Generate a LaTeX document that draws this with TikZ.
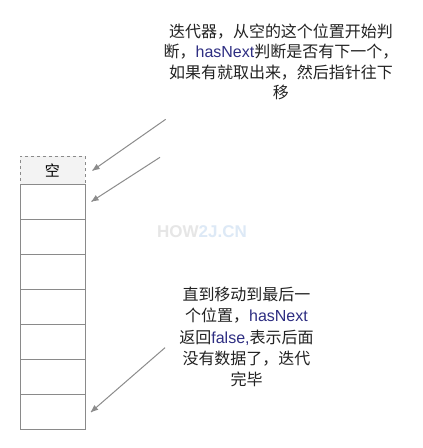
\documentclass[tikz,border=0pt]{standalone}
\usepackage{fontspec}
\setmainfont{Liberation Sans}
\newfontfamily\cjk{Noto Sans CJK SC}
\usetikzlibrary{calc}
\definecolor{cellline}{HTML}{8A8A8A}
\definecolor{arrowc}{HTML}{8C8C8C}
\definecolor{txt}{HTML}{222222}
\definecolor{kw}{HTML}{2E2E82}
\definecolor{wmgray}{HTML}{E6E6E6}
\definecolor{wmblue}{HTML}{DDE9F6}
\definecolor{topfill}{HTML}{F3F3F3}
\newcommand{\kwd}[1]{{\color{kw}#1}}
\begin{document}
\begin{tikzpicture}[x=1pt,y=1pt,
  cellbox/.style={draw=cellline,line width=1pt,minimum width=65pt,minimum height=35pt,inner sep=0pt,anchor=north west},
  emptybox/.style={cellbox,dashed,fill=topfill,minimum height=28pt},
  pointer/.style={draw=arrowc,line width=1pt},
  note/.style={align=center,text=txt,font=\cjk\fontsize{16}{20.3}\selectfont,inner sep=0pt}]
\fill[white] (0,0) rectangle (423,448);
\node[wmgray,font=\bfseries\fontsize{17}{17}\selectfont] (wm) at (202,{448-232}) {HOW\textcolor{wmblue}{2J.CN}};
\node[emptybox] (c0) at (19.5,{448-156}) {\cjk\fontsize{15}{15}\selectfont 空};
\node[cellbox] (c1) at (19.5,{448-184}) {};
\node[cellbox] (c2) at (19.5,{448-219}) {};
\node[cellbox] (c3) at (19.5,{448-254}) {};
\node[cellbox] (c4) at (19.5,{448-289}) {};
\node[cellbox] (c5) at (19.5,{448-324}) {};
\node[cellbox] (c6) at (19.5,{448-359}) {};
\node[cellbox] (c7) at (19.5,{448-394}) {};
\node[note] (t1) at (281,{448-62}) {迭代器，从空的这个位置开始判\\断，\kwd{\fontspec{Liberation Sans}hasNext}判断是否有下一个，\\如果有就取出来，然后指针往下\\移};
\node[note,font=\cjk\fontsize{16}{21.2}\selectfont] (t2) at (246.5,{448-337}) {直到移动到最后一\\个位置，\kwd{\fontspec{Liberation Sans}hasNext}\\返回\kwd{\fontspec{Liberation Sans}false,}表示后面\\没有数据了，迭代\\完毕};
\coordinate (s1) at (165.7,{448-119.3});
\coordinate (s2) at (160,{448-157.3});
\coordinate (s3) at (165,{448-347.7});
\coordinate (e1) at ($(c0.east)+(7,0)$);
\coordinate (e2) at ($(c1.east)+(6,0.5)$);
\coordinate (e3) at ($(c7.east)+(5.5,0)$);
\draw[pointer] (s1) -- (e1);
\draw[pointer] (s2) -- (e2);
\draw[pointer] (s3) -- (e3);
\fill[arrowc] (e1) -- ($($(e1)!7pt!(s1)$)!3pt!90:(s1)$) -- ($($(e1)!7pt!(s1)$)!3pt!-90:(s1)$) -- cycle;
\fill[arrowc] (e2) -- ($($(e2)!7pt!(s2)$)!3pt!90:(s2)$) -- ($($(e2)!7pt!(s2)$)!3pt!-90:(s2)$) -- cycle;
\fill[arrowc] (e3) -- ($($(e3)!7pt!(s3)$)!3pt!90:(s3)$) -- ($($(e3)!7pt!(s3)$)!3pt!-90:(s3)$) -- cycle;
\end{tikzpicture}
\end{document}
